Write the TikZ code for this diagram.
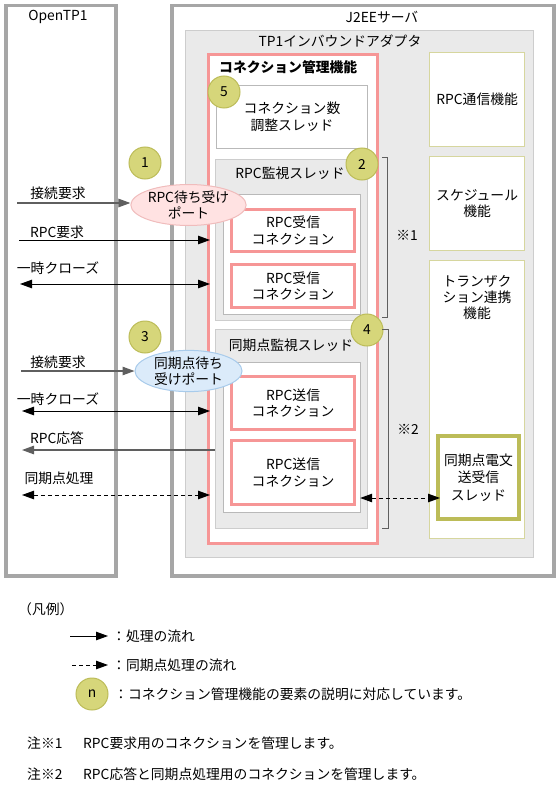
\documentclass[tikz,border=0pt]{standalone}
\usepackage{fontspec}
\setmainfont{Noto Sans CJK JP}
\usetikzlibrary{arrows.meta, shapes.geometric, positioning}
\usepackage{xcolor}

\definecolor{frame}{RGB}{166,166,166}
\definecolor{panel}{RGB}{234,234,234}
\definecolor{panelline}{RGB}{205,205,205}
\definecolor{boxline}{RGB}{185,185,185}
\definecolor{conpink}{RGB}{246,150,150}
\definecolor{numfill}{RGB}{214,214,122}
\definecolor{numline}{RGB}{188,188,88}
\definecolor{paleolive}{RGB}{214,214,158}
\definecolor{portpink}{RGB}{255,226,226}
\definecolor{portpinkline}{RGB}{240,188,188}
\definecolor{portblue}{RGB}{219,235,250}
\definecolor{portblueline}{RGB}{168,203,235}
\definecolor{flowgray}{RGB}{95,95,95}

\begin{document}
\begin{tikzpicture}[x=1pt, y=-1pt, >={Triangle[length=12pt,width=8.5pt]},
          every node/.style={font=\fontsize{13.8}{16.5}\selectfont, align=center, inner sep=0pt},
          outer/.style={draw=frame, line width=3.5pt, anchor=north west},
          panelbox/.style={draw=panelline, fill=panel, line width=1pt, anchor=north west},
          whitebox/.style={draw=boxline, fill=white, line width=1pt, anchor=north west},
          conbox/.style={draw=conpink, fill=white, line width=3.2pt, anchor=north west},
          funcbox/.style={draw=paleolive, fill=white, line width=1.3pt, anchor=north west},
          port/.style={ellipse, minimum width=107pt, minimum height=41pt, line width=1pt},
          num/.style={circle, fill=numfill, draw=numline, line width=1pt, minimum size=32pt},
          flow/.style={->, line width=0.9pt},
          flow2/.style={<->, line width=0.9pt},
          syncflow/.style={<->, line width=0.9pt, dash pattern=on 4pt off 3pt}]
        \useasboundingbox (0,0) rectangle (557,789);

        % outer systems
        \node[outer, minimum width=110pt, minimum height=570pt] (otp) at (4,4) {};
        \node (otpname) at (58,17) {OpenTP1};
        \node[outer, minimum width=382pt, minimum height=570pt] (j2ee) at (170,4) {};
        \node (j2eename) at (382,17) {J2EEサーバ};
        \node[panelbox, minimum width=348pt, minimum height=527pt] (adp) at (185,30) {};
        \node (adpname) at (340,41) {TP1インバウンドアダプタ};

        % connection management
        \node[conbox, minimum width=169pt, minimum height=489pt] (cm) at (207,53) {};
        \node[anchor=west, font=\fontsize{13.8}{16.5}\selectfont\bfseries] (cmname) at (219,67) {コネクション管理機能};
        \node[whitebox, minimum width=151pt, minimum height=63pt] (adj) at (216,85) {};
        \node (adjname) at (adj.center) {コネクション数\\調整スレッド};

        \node[panelbox, minimum width=152pt, minimum height=161pt] (rpcmon) at (215,159) {};
        \node (rpcmonname) at (290,173) {RPC監視スレッド};
        \node[whitebox, minimum width=137pt, minimum height=120pt] (rpcin) at (223,194) {};
        \node[conbox, minimum width=123pt, minimum height=42pt] (recv1) at (230,208) {};
        \node (recv1name) at (recv1.center) {RPC受信\\コネクション};
        \node[conbox, minimum width=123pt, minimum height=43pt] (recv2) at (230,263) {};
        \node (recv2name) at (recv2.center) {RPC受信\\コネクション};

        \node[panelbox, minimum width=152pt, minimum height=199pt] (syncmon) at (215,329) {};
        \node (syncmonname) at (291,345) {同期点監視スレッド};
        \node[whitebox, minimum width=137pt, minimum height=150pt] (syncin) at (223,362) {};
        \node[conbox, minimum width=123pt, minimum height=53pt] (send1) at (230,375) {};
        \node (send1name) at (send1.center) {RPC送信\\コネクション};
        \node[conbox, minimum width=123pt, minimum height=64pt] (send2) at (230,439) {};
        \node (send2name) at (send2.center) {RPC送信\\コネクション};

        % functions on the right
        \node[funcbox, minimum width=95pt, minimum height=94pt] (rpccom) at (429,52) {};
        \node (rpccomname) at (rpccom.center) {RPC通信機能};
        \node[funcbox, minimum width=95pt, minimum height=94pt] (sched) at (429,156) {};
        \node (schedname) at (sched.center) {スケジュール\\機能};
        \node[funcbox, minimum width=95pt, minimum height=278pt] (tx) at (429,260) {};
        \node[font=\fontsize{13.8}{16}\selectfont] (txname) at (477,297) {トランザク\\ション連携\\機能};
        \node[draw=numline, fill=white, line width=4pt, anchor=north west,
              minimum width=81pt, minimum height=83pt] (syncmsg) at (436,434) {};
        \node[font=\fontsize{13.8}{17.5}\selectfont] (syncmsgname) at (syncmsg.center) {同期点電文\\送受信\\スレッド};

        % ports
        \node[port, fill=portpink, draw=portpinkline] (rpcport) at (188.5,205) {RPC待ち受け\\ポート};
        \node[port, fill=portblue, draw=portblueline] (syncport) at (188.5,371) {同期点待ち\\受けポート};

        % numbers
        \node[num] (n1) at (145,163) {1};
        \node[num] (n2) at (362,164) {2};
        \node[num] (n3) at (145,337) {3};
        \node[num] (n4) at (367,330) {4};
        \node[num] (n5) at (224,92) {5};

        % brackets
        \draw[flowgray, line width=0.8pt] (382,157) -- (387,157) -- (387,317) -- (382,317);
        \node (note1mark) at (407,235) {※1};
        \draw[flowgray, line width=0.8pt] (382,329) -- (388,329) -- (388,528) -- (382,528);
        \node (note2mark) at (408,429) {※2};

        % flows from OpenTP1
        \coordinate (a1) at (17,203);
        \coordinate (a2) at (19,240);
        \coordinate (a3) at (20,284);
        \coordinate (a4) at (21,371);
        \coordinate (a5) at (22,411);
        \coordinate (a6) at (22,450);
        \coordinate (a7) at (22,495);
        \node (t1) at (58,193) {接続要求};
        \node (t2) at (57,232) {RPC要求};
        \node (t3) at (58,268) {一時クローズ};
        \node (t4) at (58,362) {接続要求};
        \node (t5) at (58,399) {一時クローズ};
        \node (t6) at (57,438) {RPC応答};
        \node (t7) at (59,478) {同期点処理};
        \draw[flow, flowgray, line width=1.2pt] (a1) -- (a1 -| rpcport.west);
        \draw[flow] (a2) -- ([xshift=3pt]a2 -| cm.west);
        \draw[flow2] (a3) -- ([xshift=3pt]a3 -| cm.west);
        \draw[flow, flowgray, line width=1.2pt] (a4) -- (a4 -| syncport.west);
        \draw[flow2] (a5) -- ([xshift=3pt]a5 -| cm.west);
        \draw[flow, flowgray, line width=1.2pt] (a6 -| syncmon.west) -- (a6);
        \draw[syncflow] (a7) -- ([xshift=3pt]a7 -| cm.west);
        \draw[syncflow] ([xshift=4pt]send2.east |- 0,498) -- ([xshift=4pt]syncmsg.west |- 0,498);

        % legend
        \node[anchor=west] (legend) at (18,609) {（凡例）};
        \coordinate (ls1) at (70,636);
        \coordinate (le1) at (108,636);
        \draw[flow] (ls1) -- (le1);
        \node[anchor=west] (lt1) at (112,636) {：処理の流れ};
        \coordinate (ls2) at (72,665);
        \coordinate (le2) at (108,665);
        \draw[->, line width=0.9pt, dash pattern=on 4pt off 3pt] (ls2) -- (le2);
        \node[anchor=west] (lt2) at (112,665) {：同期点処理の流れ};
        \node[num] (ln) at (92,694) {n};
        \node[anchor=west] (lt3) at (114,694) {：コネクション管理機能の要素の説明に対応しています。};
        \node[anchor=west] (nt1) at (27,743) {注※1};
        \node[anchor=west] (nd1) at (83,743) {RPC要求用のコネクションを管理します。};
        \node[anchor=west] (nt2) at (27,774) {注※2};
        \node[anchor=west] (nd2) at (83,774) {RPC応答と同期点処理用のコネクションを管理します。};
      \end{tikzpicture}
\end{document}
